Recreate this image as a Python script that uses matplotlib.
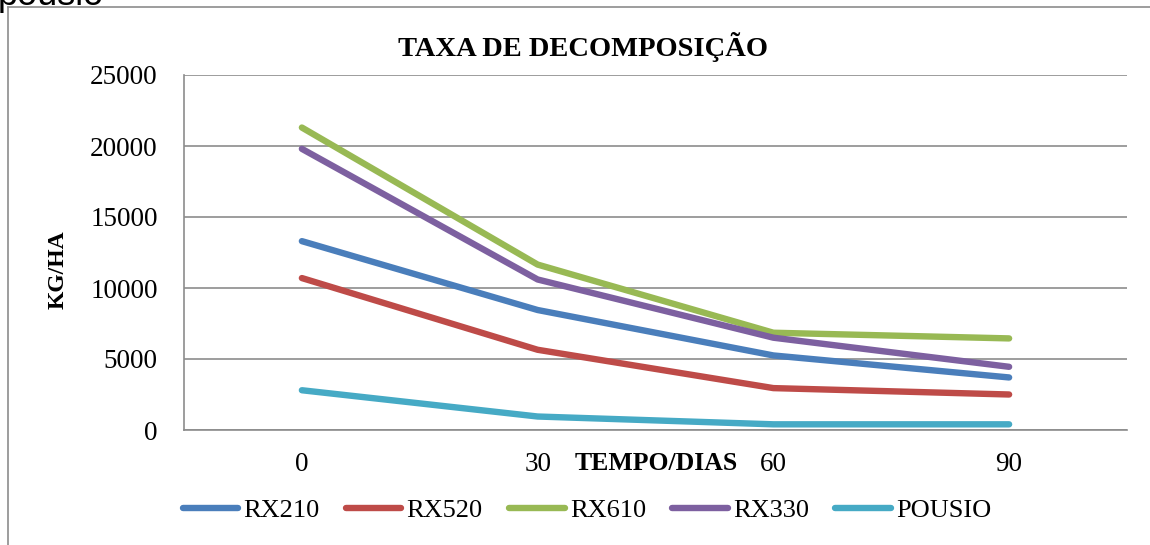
import matplotlib
matplotlib.use("Agg")
import matplotlib.pyplot as plt
from matplotlib.lines import Line2D

categories = ["0", "30", "60", "90"]
series_names = ["RX210", "RX520", "RX610", "RX330", "POUSIO"]
rx210 = [13300, 8450, 5250, 3700]
rx520 = [10700, 5650, 2950, 2500]
rx610 = [21300, 11650, 6850, 6450]
rx330 = [19800, 10600, 6500, 4450]
pousio = [2800, 950, 400, 400]
colors = ["#4A7EBB", "#BE4B48", "#98B954", "#7D60A0", "#46AAC5"]

W, H = 1150, 545
plt.rcParams['font.family'] = ['Liberation Serif', 'DejaVu Serif']

fig = plt.figure(figsize=(W / 100, H / 100), dpi=100)
ax = fig.add_axes([184 / W, 1 - 430 / H, (1127 - 184) / W, (430 - 75) / H])

x = list(range(len(categories)))
for name, vals, c in zip(series_names, [rx210, rx520, rx610, rx330, pousio], colors):
    ax.plot(x, vals, color=c, lw=4.6, solid_capstyle='round', solid_joinstyle='round', label=name)

ax.set_xlim(-0.5, len(categories) - 0.5)
ax.set_ylim(0, 25000)
ax.set_yticks(range(0, 25001, 5000))
ax.set_xticks(x)
ax.set_xticklabels(categories)
ax.tick_params(axis='both', length=0, labelsize=19.5)
ax.tick_params(axis='y', pad=19)
ax.tick_params(axis='x', pad=16)
ax.grid(axis='y', color='#8C8C8C', lw=1.2)
ax.set_axisbelow(True)
for s in ['top', 'right']:
    ax.spines[s].set_visible(False)
for s in ['left', 'bottom']:
    ax.spines[s].set_color('#8C8C8C')
    ax.spines[s].set_linewidth(1.2)

def px(xp, yp):
    return xp / W, 1 - yp / H

fig.text(*px(583, 47), "TAXA DE DECOMPOSIÇÃO", ha='center', va='center', fontsize=20.5, fontweight='bold')
fig.text(*px(656, 463), "TEMPO/DIAS", ha='center', va='center', fontsize=18.5, fontweight='bold')
fig.text(*px(58, 270), "KG/HA", ha='center', va='center', rotation=90, fontsize=17, fontweight='bold')

handles = [Line2D([], [], color=c, lw=4.6, solid_capstyle='round') for c in colors]
fig.legend(handles, series_names, loc='center', bbox_to_anchor=px(587, 510), ncol=5, frameon=False,
           fontsize=19, handlelength=2.1, handletextpad=0.2, columnspacing=1.0)

# outer chart frame (top and left edges visible)
fig.add_artist(Line2D([8 / W, 1.0], [1 - 7 / H, 1 - 7 / H], color='#8C8C8C', lw=1.2))
fig.add_artist(Line2D([8 / W, 8 / W], [1 - 7 / H, 0.0], color='#8C8C8C', lw=1.2))

# clipped caption text at the very top
fig.text(*px(-2, 5), "pousio", ha='left', va='baseline', fontsize=26, family=['Liberation Sans', 'DejaVu Sans'])

fig.savefig("out.png", dpi=100)
